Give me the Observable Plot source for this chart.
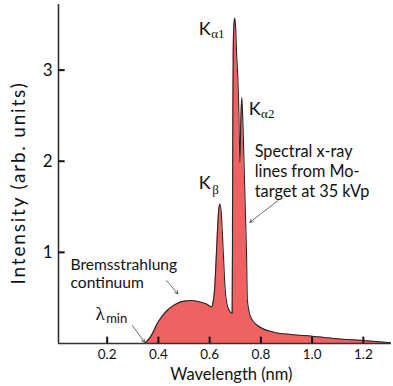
<!DOCTYPE html>
<html>
<head>
<meta charset="utf-8">
<script src="https://cdn.jsdelivr.net/npm/d3@7"></script>
<script src="https://cdn.jsdelivr.net/npm/@observablehq/plot@0.6"></script>
<style>
  body { margin: 0; background: #fff; }
  #chart svg { display: block; }
</style>
</head>
<body>
<div id="chart"></div>
<script>
// ---- spectrum data (wavelength in nm, intensity in arb. units) ----
const wavelength = [
  0.3457, 0.36, 0.375, 0.395, 0.415, 0.434, 0.455, 0.473, 0.50, 0.53, 0.564, 0.59, 0.607,
  0.614, 0.620, 0.625, 0.630, 0.635, 0.640, 0.645, 0.650, 0.655, 0.660, 0.667, 0.677, 0.688,
  0.6893, 0.6905, 0.692, 0.694, 0.698, 0.702, 0.705, 0.710, 0.714, 0.7178, 0.7215, 0.7256,
  0.729, 0.7322, 0.7361, 0.740, 0.744, 0.7475, 0.760, 0.786, 0.850, 0.916, 1.00, 1.11, 1.20, 1.306
];
const intensity = [
  0.00, 0.04, 0.10, 0.216, 0.30, 0.362, 0.41, 0.44, 0.465, 0.472, 0.455, 0.43, 0.40,
  0.46, 0.62, 0.90, 1.20, 1.45, 1.53, 1.45, 1.20, 0.90, 0.62, 0.44, 0.36, 0.33,
  1.20, 2.40, 3.10, 3.45, 3.57, 3.45, 3.20, 2.92, 2.56, 1.99, 2.40, 2.70,
  2.50, 2.20, 1.80, 1.40, 1.00, 0.47, 0.29, 0.20, 0.124, 0.099, 0.08, 0.05, 0.033, 0.008
];

// ---- axes ----
const xDomain = [0.01, 1.31];
const yDomain = [0, 3.72];
const xTicks = [0.2, 0.4, 0.6, 0.8, 1.0, 1.2];
const yTicks = [1, 2, 3];
const xTitle = "Wavelength (nm)";
const yTitle = "Intensity (arb. units)";

// ---- annotations ----
const bigLabels = [
  {text: "K", x: 0.558, y: 3.381},
  {text: "K", x: 0.753, y: 2.503},
  {text: "K", x: 0.558, y: 1.698}
];
const subLabels = [
  {text: "α1", x: 0.606, y: 3.351},
  {text: "α2", x: 0.801, y: 2.470},
  {text: "β",  x: 0.610, y: 1.646}
];
const spectralLines = [
  {text: "Spectral x-ray",   x: 0.776, y: 2.050},
  {text: "lines from Mo-",   x: 0.776, y: 1.830},
  {text: "target at 35 kVp", x: 0.776, y: 1.610}
];
const bremsLines = [
  {text: "Bremsstrahlung",   x: 0.057, y: 0.802},
  {text: "continuum",        x: 0.057, y: 0.604}
];
const lambdaLabel = [{text: "λ", x: 0.154, y: 0.263}];
const lambdaSub = [{text: "min", x: 0.196, y: 0.220}];
const arrows = [
  {x1: 0.868, y1: 1.57,  x2: 0.757, y2: 1.33},
  {x1: 0.432, y1: 0.69,  x2: 0.476, y2: 0.545},
  {x1: 0.298, y1: 0.198, x2: 0.346, y2: 0.014}
];

const data = wavelength.map((w, i) => ({w, v: intensity[i]}));

const chart = Plot.plot({
  width: 393,
  height: 386,
  marginLeft: 58,
  marginRight: 2,
  marginTop: 4,
  marginBottom: 43,
  style: {fontFamily: "Lato, 'Open Sans', sans-serif", color: "#111", background: "#fff"},
  x: {domain: xDomain},
  y: {domain: yDomain},
  marks: [
    Plot.areaY(data, {x: "w", y: "v", fill: "#f06262", curve: "monotone-x"}),
    Plot.lineY(data, {x: "w", y: "v", stroke: "#262626", strokeWidth: 1.1, curve: "monotone-x"}),
    // axis lines
    Plot.ruleY([yDomain[0]], {stroke: "#333", strokeWidth: 1.6}),
    Plot.ruleX([xDomain[0]], {stroke: "#333", strokeWidth: 1.6}),
    // inward tick marks
    Plot.ruleX(xTicks, {x: d => d, y1: 0, y2: 0.07, stroke: "#111", strokeWidth: 2}),
    Plot.ruleY(yTicks, {y: d => d, x1: xDomain[0], x2: xDomain[0] + 0.026, stroke: "#111", strokeWidth: 2}),
    Plot.axisX({ticks: xTicks, tickSize: 0, tickPadding: 6, tickFormat: d3.format(".1f"), fontSize: 13.5, label: null}),
    Plot.axisY({ticks: yTicks, tickSize: 0, tickPadding: 6, tickFormat: d3.format("d"), fontSize: 17, label: null}),
    // axis titles
    Plot.text([xTitle], {frameAnchor: "bottom", x: 0.685, dy: 31, fontSize: 16.5, lineAnchor: "middle", fill: "#111"}),
    Plot.text([yTitle], {frameAnchor: "left", y: 1.762, dx: -40, rotate: -90, fontSize: 19, lineAnchor: "middle", textAnchor: "middle", fill: "#111"}),
    // annotations
    Plot.text(bigLabels, {x: "x", y: "y", text: "text", fontSize: 18, textAnchor: "start", lineAnchor: "bottom", fill: "#111"}),
    Plot.text(subLabels, {x: "x", y: "y", text: "text", fontSize: 13, fontFamily: "'Liberation Serif', serif", textAnchor: "start", lineAnchor: "bottom", fill: "#111"}),
    Plot.text(spectralLines, {x: "x", y: "y", text: "text", fontSize: 16.3, textAnchor: "start", lineAnchor: "bottom", fill: "#111"}),
    Plot.text(bremsLines, {x: "x", y: "y", text: "text", fontSize: 15.6, textAnchor: "start", lineAnchor: "bottom", fill: "#111"}),
    Plot.text(lambdaLabel, {x: "x", y: "y", text: "text", fontSize: 19, fontFamily: "'Liberation Serif', serif", textAnchor: "start", lineAnchor: "bottom", fill: "#111"}),
    Plot.text(lambdaSub, {x: "x", y: "y", text: "text", fontSize: 13, textAnchor: "start", lineAnchor: "bottom", fill: "#111"}),
    Plot.arrow(arrows, {x1: "x1", y1: "y1", x2: "x2", y2: "y2", stroke: "#444", strokeWidth: 0.8, headLength: 6})
  ]
});
// widen the vertical title's letter spacing to match the reference extent
d3.select(chart).selectAll("text")
  .filter(function () { return this.textContent === yTitle; })
  .attr("letter-spacing", "1.8");
document.getElementById("chart").appendChild(chart);
</script>
</body>
</html>
